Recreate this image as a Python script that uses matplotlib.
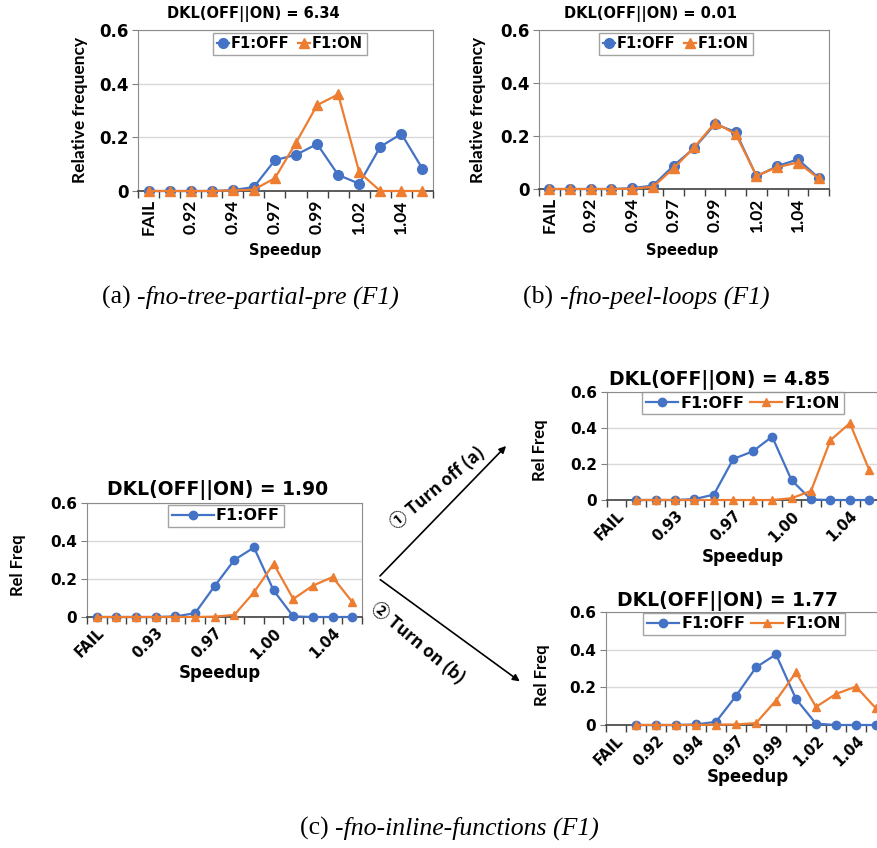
import numpy as np
import matplotlib
matplotlib.use("Agg")
import matplotlib.pyplot as plt
from matplotlib.patches import FancyArrowPatch

# Speedup bins (x categories) shared by all panels
categories = ["FAIL", "0.91", "0.92", "0.93", "0.94", "0.96", "0.97",
              "0.98", "0.99", "1.00", "1.02", "1.03", "1.04", "1.05"]

# (a) -fno-tree-partial-pre
a_off = [0, 0, 0, 0, 0.003, 0.015, 0.115, 0.135, 0.175, 0.06, 0.027, 0.165, 0.213, 0.083]
a_on = [0, 0, 0, 0, 0.002, 0.005, 0.048, 0.18, 0.32, 0.36, 0.07, 0, 0, 0]

# (b) -fno-peel-loops
b_off = [0, 0, 0, 0, 0.003, 0.013, 0.088, 0.155, 0.245, 0.215, 0.048, 0.086, 0.112, 0.042]
b_on = [0, 0, 0, 0, 0.001, 0.008, 0.078, 0.158, 0.25, 0.207, 0.05, 0.082, 0.1, 0.04]

# (c) -fno-inline-functions, left panel
c_off = [0, 0, 0, 0, 0.003, 0.02, 0.163, 0.3, 0.366, 0.14, 0.003, 0, 0, 0]
c_on = [0, 0, 0, 0, 0, 0, 0.002, 0.011, 0.13, 0.28, 0.095, 0.165, 0.21, 0.08]

# (c) after turning off (a)
ct_off = [np.nan, 0, 0, 0, 0.005, 0.03, 0.228, 0.27, 0.352, 0.11, 0.003, 0, 0, 0]
ct_on = [np.nan, 0, 0, 0, 0, 0, 0, 0, 0, 0.01, 0.05, 0.332, 0.427, 0.166]

# (c) after turning on (b)
cb_off = [np.nan, 0, 0, 0, 0.003, 0.017, 0.154, 0.306, 0.375, 0.138, 0.007, 0, 0, 0]
cb_on = [np.nan, 0, 0, 0, 0, 0.002, 0.003, 0.01, 0.13, 0.28, 0.096, 0.165, 0.204, 0.088]

BLUE = "#4472C4"
ORANGE = "#ED7D31"
W, H = 878, 848
WIDE = "DejaVu Sans"   # horizontal text (source image is stretched sideways)
NARROW = "Lato"        # vertical text

fig = plt.figure(figsize=(W / 100, H / 100), dpi=100)


def fx(px):
    return px / W


def fy(py):
    return 1 - py / H


def panel(left, right, top, bottom, off, on, shown, rot, xfont, xsize, ysize, legsize,
          legend_xy, show_on_legend=True, handlelen=0.8, colsp=0.6, ms=7):
    ax = fig.add_axes([fx(left), fy(bottom), fx(right - left), (bottom - top) / H])
    x = np.arange(len(categories))
    ax.plot(x, off, color=BLUE, marker="o", lw=1.6, ms=ms, label="F1:OFF", clip_on=False, zorder=3)
    ax.plot(x, on, color=ORANGE, marker="^", lw=1.6, ms=ms, label="F1:ON" if show_on_legend else "_nolegend_",
            clip_on=False, zorder=3)
    ax.set_xlim(-0.5, len(categories) - 0.5)
    ax.set_ylim(0, 0.6)
    ax.set_yticks([0, 0.2, 0.4, 0.6])
    ax.set_yticklabels(["0", "0.2", "0.4", "0.6"], fontfamily=WIDE, fontweight="bold", fontsize=ysize)
    ax.set_xticks(shown)
    if rot == 90:
        ax.set_xticklabels([categories[i] for i in shown], rotation=90, fontfamily=xfont,
                           fontweight="bold", fontsize=xsize)
    else:
        ax.set_xticklabels([categories[i] for i in shown], rotation=45, ha="right",
                           rotation_mode="anchor", fontfamily=xfont, fontweight="bold", fontsize=xsize)
    ax.set_xticks(np.arange(-0.5, len(categories)), minor=True)
    ax.tick_params(axis="x", which="major", length=0, pad=6)
    ax.tick_params(axis="x", which="minor", length=5, width=1, color="#404040")
    ax.tick_params(axis="y", length=4, color="#808080", pad=3)
    ax.grid(axis="y", color="#d9d9d9", lw=1)
    ax.set_axisbelow(True)
    for s in ["left", "top", "right"]:
        ax.spines[s].set_color("#8c8c8c")
    ax.spines["bottom"].set_color("#404040")
    ax.spines["bottom"].set_linewidth(1.2)
    leg = ax.legend(loc="center", bbox_to_anchor=(fx(legend_xy[0]), fy(legend_xy[1])),
                    bbox_transform=fig.transFigure, ncol=2, frameon=True, fancybox=False,
                    edgecolor="#8c8c8c", handlelength=handlelen, handletextpad=0.15,
                    columnspacing=colsp, borderpad=0.25,
                    prop={"family": WIDE, "weight": "bold", "size": legsize})
    leg.get_frame().set_linewidth(1)
    return ax


# ---- (a) ----
panel(138, 433, 30, 191, a_off, a_on, [0, 2, 4, 6, 8, 10, 12], 90, NARROW, 12.5, 12, 10.5, (290, 44))
fig.text(fx(253), fy(14), "DKL(OFF||ON) = 6.34", ha="center", va="center",
         fontfamily=WIDE, fontweight="bold", fontsize=10.5)
fig.text(fx(80), fy(110), "Relative frequency", rotation=90, ha="center", va="center",
         fontfamily=NARROW, fontweight="bold", fontsize=12.5)
fig.text(fx(285), fy(250), "Speedup", ha="center", va="center",
         fontfamily=WIDE, fontweight="bold", fontsize=10.5)

# ---- (b) ----
panel(539, 829, 30, 189, b_off, b_on, [0, 2, 4, 6, 8, 10, 12], 90, NARROW, 12.5, 12, 10.5, (676, 44))
fig.text(fx(650), fy(14), "DKL(OFF||ON) = 0.01", ha="center", va="center",
         fontfamily=WIDE, fontweight="bold", fontsize=10.5)
fig.text(fx(478), fy(110), "Relative frequency", rotation=90, ha="center", va="center",
         fontfamily=NARROW, fontweight="bold", fontsize=12.5)
fig.text(fx(682), fy(250), "Speedup", ha="center", va="center",
         fontfamily=WIDE, fontweight="bold", fontsize=10.5)

# ---- (c) left ----
panel(87, 362, 503, 617, c_off, c_on, [0, 3, 6, 9, 12], 45, WIDE, 10.5, 11, 11.5, (226, 516),
      show_on_legend=False, handlelen=2.6, ms=6)
fig.text(fx(218), fy(490), "DKL(OFF||ON) = 1.90", ha="center", va="center",
         fontfamily=WIDE, fontweight="bold", fontsize=13.5)
fig.text(fx(18), fy(565), "Rel Freq", rotation=90, ha="center", va="center",
         fontfamily=NARROW, fontweight="bold", fontsize=12)
fig.text(fx(220), fy(673), "Speedup", ha="center", va="center",
         fontfamily=WIDE, fontweight="bold", fontsize=12)

# ---- (c) top right ----
panel(607, 879, 392, 500, ct_off, ct_on, [0, 3, 6, 9, 12], 45, WIDE, 10.5, 11, 11.5, (743, 403),
      handlelen=2.0, colsp=0.4, ms=6)
fig.text(fx(720), fy(380), "DKL(OFF||ON) = 4.85", ha="center", va="center",
         fontfamily=WIDE, fontweight="bold", fontsize=13.5)
fig.text(fx(540), fy(450), "Rel Freq", rotation=90, ha="center", va="center",
         fontfamily=NARROW, fontweight="bold", fontsize=12)
fig.text(fx(743), fy(557), "Speedup", ha="center", va="center",
         fontfamily=WIDE, fontweight="bold", fontsize=12)

# ---- (c) bottom right ----
panel(606, 886, 612, 725, cb_off, cb_on, [0, 2, 4, 6, 8, 10, 12], 45, WIDE, 10.5, 11, 11.5, (744, 624),
      handlelen=2.0, colsp=0.4, ms=6)
fig.text(fx(728), fy(601), "DKL(OFF||ON) = 1.77", ha="center", va="center",
         fontfamily=WIDE, fontweight="bold", fontsize=13.5)
fig.text(fx(542), fy(675), "Rel Freq", rotation=90, ha="center", va="center",
         fontfamily=NARROW, fontweight="bold", fontsize=12)
fig.text(fx(748), fy(777), "Speedup", ha="center", va="center",
         fontfamily=WIDE, fontweight="bold", fontsize=12)

# ---- arrows between (c) panels ----
for tip in [(508, 444), (522, 683)]:
    fig.add_artist(FancyArrowPatch((fx(378), fy(578)), (fx(tip[0]), fy(tip[1])),
                                   transform=fig.transFigure, arrowstyle="-|>",
                                   mutation_scale=10, lw=1.2, color="black"))
fig.text(fx(437), fy(488), "\u2460 Turn off (a)", rotation=40, ha="center", va="center",
         family=["Noto Sans CJK SC", "DejaVu Sans"], fontweight="bold", fontsize=12.5)
fig.text(fx(418), fy(643), "\u2461 Turn on (b)", rotation=-40, ha="center", va="center",
         family=["Noto Sans CJK SC", "DejaVu Sans"], fontweight="bold", fontsize=12.5, style="italic")

# ---- captions ----
for x0, y0, lab, name in [(102, 297, "(a) ", "-fno-tree-partial-pre (F1)"),
                          (523, 297, "(b) ", "-fno-peel-loops (F1)"),
                          (300, 828, "(c) ", "-fno-inline-functions (F1)")]:
    t1 = fig.text(fx(x0), fy(y0), lab, ha="left", va="center",
                  fontfamily="Liberation Serif", fontsize=18.5)
    plt.annotate(name, xy=(1, 0), xycoords=t1, va="bottom", ha="left",
                 fontfamily="Liberation Serif", fontstyle="italic", fontsize=18.5,
                 annotation_clip=False)

fig.savefig("out.png", dpi=100)
